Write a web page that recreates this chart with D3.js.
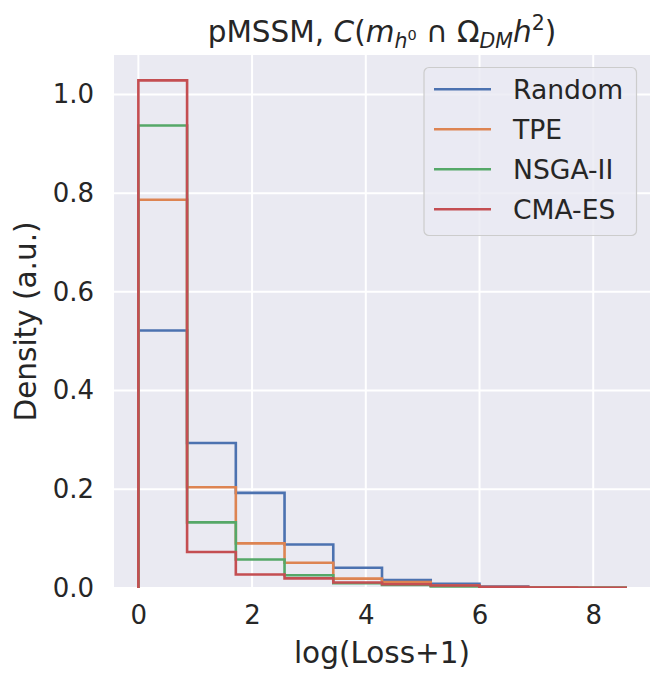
<!DOCTYPE html>
<html>
<head>
<meta charset="utf-8">
<script src="https://cdn.jsdelivr.net/npm/d3@7"></script>
<style>
  html, body { margin: 0; padding: 0; background: #ffffff; }
  svg { display: block; font-family: "DejaVu Sans", sans-serif; }
</style>
</head>
<body>
<svg id="chart" width="665" height="684"></svg>
<script>
// ---- data ----
const binEdges = [0, 0.857, 1.714, 2.571, 3.428, 4.285, 5.142, 5.999, 6.856, 7.713, 8.57];
const seriesNames = ["Random", "TPE", "NSGA-II", "CMA-ES"];
const randomValues = [0.5216, 0.2938, 0.1927, 0.0882, 0.041, 0.016, 0.0087, 0.003, 0.0004, 0.0002];
const tpeValues    = [0.7865, 0.204, 0.0904, 0.0512, 0.019, 0.012, 0.005, 0.002, 0.0008, 0.0004];
const nsgaValues   = [0.937, 0.133, 0.0578, 0.0257, 0.0095, 0.006, 0.003, 0.0015, 0.0006, 0.0003];
const cmaValues    = [1.0285, 0.0728, 0.0275, 0.0196, 0.011, 0.0075, 0.005, 0.002, 0.0008, 0.0005];
const xTicks = [0, 2, 4, 6, 8];
const yTicks = [0.0, 0.2, 0.4, 0.6, 0.8, 1.0];
const seriesColors = ["#4C72B0", "#DD8452", "#55A868", "#C44E52"];

const allSeries = [randomValues, tpeValues, nsgaValues, cmaValues];

// ---- layout ----
const svg = d3.select("#chart");
const pLeft = 114, pRight = 650, pTop = 55, pBottom = 588;
const textColor = "#262626";

const xMin = binEdges[0], xMax = binEdges[binEdges.length - 1];
const xPad = 0.05 * (xMax - xMin);
const x = d3.scaleLinear().domain([xMin - xPad, xMax + xPad]).range([pLeft, pRight]);
const yMax = d3.max(allSeries.flat()) * 1.05;
const y = d3.scaleLinear().domain([0, yMax]).range([pBottom, pTop]);

// background
svg.append("rect").attr("x", pLeft).attr("y", pTop)
  .attr("width", pRight - pLeft).attr("height", pBottom - pTop)
  .attr("fill", "#EAEAF2");

// grid
const grid = svg.append("g");
grid.selectAll("line.gx").data(xTicks).join("line")
  .attr("x1", d => x(d)).attr("x2", d => x(d))
  .attr("y1", pTop).attr("y2", pBottom)
  .attr("stroke", "#ffffff").attr("stroke-width", 2);
grid.selectAll("line.gy").data(yTicks).join("line")
  .attr("x1", pLeft).attr("x2", pRight)
  .attr("y1", d => y(d)).attr("y2", d => y(d))
  .attr("stroke", "#ffffff").attr("stroke-width", 2);

// axes (labels only, seaborn style: no spines, no tick marks)
const xAxis = d3.axisBottom(x).tickValues(xTicks).tickFormat(d3.format("d")).tickSize(0).tickPadding(18);
const gx = svg.append("g").attr("transform", `translate(0,${pBottom})`).call(xAxis);
gx.select(".domain").remove();
gx.selectAll("text").attr("font-size", 26).attr("fill", textColor)
  .attr("font-family", "DejaVu Sans");

const yAxis = d3.axisLeft(y).tickValues(yTicks).tickFormat(d3.format(".1f")).tickSize(0).tickPadding(20);
const gy = svg.append("g").attr("transform", `translate(${pLeft},0)`).call(yAxis);
gy.select(".domain").remove();
gy.selectAll("text").attr("font-size", 26).attr("fill", textColor)
  .attr("font-family", "DejaVu Sans");

// clip
svg.append("clipPath").attr("id", "plotclip").append("rect")
  .attr("x", pLeft).attr("y", pTop).attr("width", pRight - pLeft).attr("height", pBottom - pTop);

// step histograms
const stepLine = d3.line().x(d => x(d[0])).y(d => y(d[1])).curve(d3.curveStepAfter);
const histG = svg.append("g").attr("clip-path", "url(#plotclip)");
allSeries.forEach((vals, i) => {
  const pts = [[binEdges[0], 0]];
  vals.forEach((v, j) => pts.push([binEdges[j], v]));
  pts.push([binEdges[binEdges.length - 1], 0]);
  histG.append("path").attr("d", stepLine(pts))
    .attr("fill", "none").attr("stroke", seriesColors[i])
    .attr("stroke-width", 2.6).attr("stroke-linejoin", "miter");
});

// legend
const lg = svg.append("g");
lg.append("rect").attr("x", 424).attr("y", 67.5).attr("width", 212.5).attr("height", 168)
  .attr("rx", 5).attr("ry", 5)
  .attr("fill", "#EAEAF2").attr("fill-opacity", 0.8)
  .attr("stroke", "#cccccc").attr("stroke-width", 1.2);
seriesNames.forEach((name, i) => {
  const cy = 89.3 + i * 40;
  lg.append("line").attr("x1", 434).attr("x2", 491).attr("y1", cy).attr("y2", cy)
    .attr("stroke", seriesColors[i]).attr("stroke-width", 2.6);
  lg.append("text").attr("x", 513).attr("y", cy + 10).text(name)
    .attr("font-size", 26.6).attr("fill", textColor);
});

// title with math
const title = svg.append("text").attr("x", 382).attr("y", 41.5)
  .attr("text-anchor", "middle").attr("font-size", 29.5).attr("fill", textColor);
title.append("tspan").text("pMSSM, ");
title.append("tspan").attr("font-style", "italic").text("C");
title.append("tspan").text("(");
title.append("tspan").attr("font-style", "italic").text("m");
title.append("tspan").attr("font-style", "italic").attr("font-size", 20.5).attr("dy", 6).text("h");
title.append("tspan").attr("font-size", 14.5).attr("dy", -8).text("0");
title.append("tspan").attr("dy", 2).text(" \u2229 ");
title.append("tspan").text("\u03A9");
title.append("tspan").attr("font-style", "italic").attr("font-size", 20.5).attr("dy", 6).text("DM");
title.append("tspan").attr("font-style", "italic").attr("dy", -6).text("h");
title.append("tspan").attr("font-size", 20.5).attr("dy", -12).text("2");
title.append("tspan").attr("dy", 12).text(")");

// axis labels
svg.append("text").attr("x", 382).attr("y", 663)
  .attr("text-anchor", "middle").attr("font-size", 29.5).attr("fill", textColor)
  .text("log(Loss+1)");
svg.append("text").attr("transform", `translate(36,${(pTop + pBottom) / 2}) rotate(-90)`)
  .attr("text-anchor", "middle").attr("font-size", 29.5).attr("fill", textColor)
  .text("Density (a.u.)");
</script>
</body>
</html>
